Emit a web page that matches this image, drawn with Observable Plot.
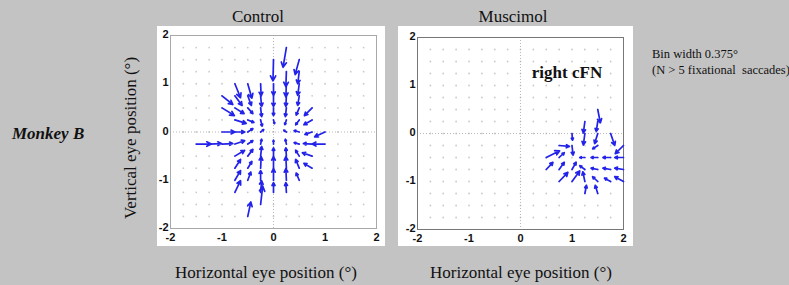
<!DOCTYPE html>
<html><head><meta charset="utf-8">
<script src="https://cdn.jsdelivr.net/npm/d3@7"></script>
<script src="https://cdn.jsdelivr.net/npm/@observablehq/plot@0.6"></script>
<style>
body{margin:0;background:#c3c3c3;width:789px;height:285px;overflow:hidden;position:relative;font-family:"Liberation Serif","Times New Roman",serif;}
.t{position:absolute;white-space:nowrap;color:#111;transform:translate(-50%,-50%);line-height:1;}
.l{position:absolute;white-space:nowrap;color:#111;line-height:1;}
.p{position:absolute;}
</style></head><body>
<div id="c1" class="p" style="left:157px;top:26px"></div>
<div id="c2" class="p" style="left:398px;top:26px"></div>
<div class="t" style="left:258px;top:16px;font-size:17px">Control</div>
<div class="t" style="left:513px;top:16px;font-size:17px">Muscimol</div>
<div class="t" style="left:266px;top:272px;font-size:17px">Horizontal eye position (°)</div>
<div class="t" style="left:521px;top:272px;font-size:17px">Horizontal eye position (°)</div>
<div class="t" style="left:130px;top:138px;font-size:17px;transform:translate(-50%,-50%) rotate(-90deg)">Vertical eye position (°)</div>
<div class="l" style="left:12px;top:125px;font-size:17px;font-weight:bold;font-style:italic">Monkey B</div>
<div class="l" style="left:652px;top:48px;font-size:12.5px">Bin width 0.375°</div>
<div class="l" style="left:652px;top:64px;font-size:12.5px">(N &gt; 5 fixational&nbsp; saccades)</div>
<div class="t" style="left:567px;top:72px;font-size:17px;font-weight:bold">right cFN</div>
<script>
const gridVals = [-1.75,-1.5,-1.25,-1,-0.75,-0.5,-0.25,0,0.25,0.5,0.75,1,1.25,1.5,1.75];
const tickVals = [-2,-1,0,1,2];

// Control panel vectors: position (x,y) and displacement (u,v), degrees
const ctrlX = [0.25, 0,0.5, 0.25,0.5, -0.75,-0.5,-0.25,0,0.25,0.5,
  -1,-0.75,-0.5,-0.25,0,0.25,0.5,
  -1,-0.75,-0.5,-0.25,0,0.25,0.5,0.75,
  -0.75,-0.5,-0.25,0,0.25,0.5,0.75,
  -1,-0.75,-0.5,-0.25,0.25,0.5,0.75,1,
  -1.5,-1.25,-1,-0.75,-0.5,-0.25,0,0.25,0.5,0.75,1,
  -0.75,-0.5,-0.25,0,0.25,0.5,0.75,
  -0.75,-0.5,-0.25,0,0.25,0.5,0.75,
  -0.75,-0.5,-0.25,0,0.25,0.5,
  -0.75,-0.25,0,0.25,
  -0.25,-0.5];
const ctrlY = [1.75, 1.5,1.5, 1.25,1.25, 1,1,1,1,1,1,
  0.75,0.75,0.75,0.75,0.75,0.75,0.75,
  0.5,0.5,0.5,0.5,0.5,0.5,0.5,0.5,
  0.25,0.25,0.25,0.25,0.25,0.25,0.25,
  0,0,0,0,0,0,0,0,
  -0.25,-0.25,-0.25,-0.25,-0.25,-0.25,-0.25,-0.25,-0.25,-0.25,-0.25,
  -0.5,-0.5,-0.5,-0.5,-0.5,-0.5,-0.5,
  -0.75,-0.75,-0.75,-0.75,-0.75,-0.75,-0.75,
  -1,-1,-1,-1,-1,-1,
  -1.25,-1.25,-1.25,-1.25,
  -1.5,-1.75];
const ctrlU = [-0.065, -0.01,-0.08, -0.01,-0.03, 0.11,0.08,0.01,0,-0.01,-0.03,
  0.21,0.14,0.07,0.02,0,-0.01,-0.03,
  0.24,0.18,0.1,0.02,0,-0.02,-0.06,-0.15,
  0.22,0.12,0.03,0.02,-0.03,-0.07,-0.16,
  0.25,0.19,0.1,0.06,-0.05,-0.1,-0.14,-0.2,
  0.29,0.24,0.21,0.19,0.1,0.02,0,-0.02,-0.1,-0.17,-0.25,
  0.19,0.1,0.02,0,-0.01,-0.07,-0.19,
  0.11,0.08,0.01,0,-0.01,-0.07,-0.16,
  0.11,0.06,0,0,-0.01,-0.06,
  0.11,0.02,0,-0.01,
  0.04,0.06];
const ctrlV = [-0.41, -0.44,-0.31, -0.31,-0.25, -0.29,-0.3,-0.25,-0.24,-0.27,-0.24,
  -0.18,-0.2,-0.2,-0.22,-0.22,-0.22,-0.2,
  -0.16,-0.12,-0.12,-0.18,-0.16,-0.18,-0.15,-0.16,
  -0.07,-0.05,-0.13,-0.08,-0.1,-0.1,-0.1,
  0,0,0.07,0.05,0.04,0.03,-0.05,-0.1,
  0,0.01,0.01,0.07,0.07,0.1,0.08,0.1,0.03,0.01,0,
  0.12,0.14,0.2,0.17,0.17,0.12,0.07,
  0.18,0.14,0.24,0.24,0.24,0.18,0.1,
  0.2,0.17,0.2,0.24,0.24,0.15,
  0.24,0.24,0.2,0.2,
  0.38,0.3];

// Muscimol panel vectors
const muscX = [1.5, 1.25,1.5, 1,1.25,1.5,1.75, 0.75,1,1.5,2,
  0.5,0.75,1.25,1.5,1.75,2,
  0.5,0.75,1,1.25,1.5,1.75,2,
  0.75,1,1.25,1.5,1.75,2,
  1.25,1.5];
const muscY = [0.5, 0.25,0.25, 0,0,0,0, -0.25,-0.25,-0.25,-0.25,
  -0.5,-0.5,-0.5,-0.5,-0.5,-0.5,
  -0.75,-0.75,-0.75,-0.75,-0.75,-0.75,-0.75,
  -1,-1,-1,-1,-1,-1,
  -1.25,-1.25];
const muscU = [0.05, -0.03,-0.03, 0.01,-0.03,-0.06,0.08, 0.2,0.02,-0.1,-0.16,
  0.26,0.1,-0.1,-0.13,-0.15,-0.17,
  0.13,0.1,0.08,-0.1,-0.13,-0.15,-0.17,
  0.17,0.15,-0.04,-0.1,-0.12,-0.17,
  0.03,-0.05];
const muscV = [-0.28, -0.24,-0.21, -0.14,-0.24,-0.21,-0.25, -0.02,-0.2,-0.07,-0.17,
  0.14,0.1,0,0,0,0,
  0.15,0.15,0.15,0.08,0.03,0.03,0.03,
  0.19,0.22,0.2,0.1,0.07,0.1,
  0.17,0.17];

const fmt = d => String(d);

function panel(X, Y, U, V, o) {
  const arrows = X.map((x, i) => ({x1: x, y1: Y[i], x2: x + U[i], y2: Y[i] + V[i]}));
  const grid = gridVals.flatMap(gx => gridVals.map(gy => ({x: gx, y: gy})));
  return Plot.plot({
    width: o.width, height: o.height,
    marginLeft: o.ml, marginRight: o.mr, marginTop: o.mt, marginBottom: o.mb,
    x: {domain: [-2, 2]}, y: {domain: [-2, 2]},
    style: {background: "white", overflow: "visible", fontFamily: "'Liberation Sans', Arial, sans-serif"},
    marks: [
      Plot.dot(grid, {x: "x", y: "y", r: 0.9, fill: "#cacaca", stroke: "none"}),
      Plot.ruleX([0], {stroke: "#b8b8b8", strokeDasharray: "1,2"}),
      Plot.ruleY([0], {stroke: "#b8b8b8", strokeDasharray: "1,2"}),
      Plot.frame({stroke: o.frame}),
      Plot.axisX({ticks: tickVals, tickFormat: fmt, tickSize: 0, tickPadding: 5, fontSize: 11, fontWeight: "bold", fill: "#111", label: null}),
      Plot.axisY({ticks: tickVals, tickFormat: fmt, tickSize: 0, tickPadding: 2, dy: -1, fontSize: 11, fontWeight: "bold", fill: "#111", label: null, anchor: "left"}),
      Plot.arrow(arrows, {x1: "x1", y1: "y1", x2: "x2", y2: "y2", stroke: "#2222ea", strokeWidth: 1.7, headLength: 5, headAngle: 55})
    ]
  });
}

document.getElementById("c1").appendChild(panel(ctrlX, ctrlY, ctrlU, ctrlV,
  {width: 228, height: 220, ml: 13, mr: 9, mt: 9, mb: 18, frame: "#a8a8a8"}));
document.getElementById("c2").appendChild(panel(muscX, muscY, muscU, muscV,
  {width: 235, height: 220, ml: 19, mr: 10, mt: 11, mb: 17, frame: "#777"}));
</script>
</body></html>
